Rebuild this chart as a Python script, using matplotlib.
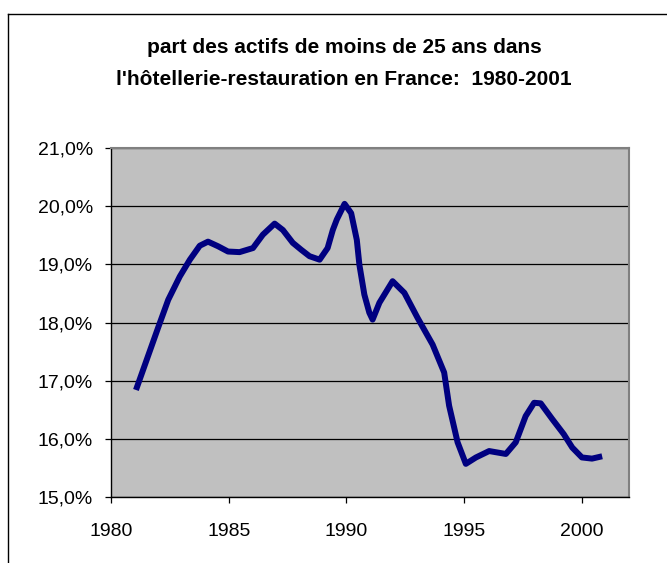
import matplotlib
matplotlib.use("Agg")
import matplotlib.pyplot as plt
from matplotlib.lines import Line2D
from matplotlib.ticker import FuncFormatter

plt.rcParams['font.family'] = ['Liberation Sans', 'DejaVu Sans']

years = [1981.06, 1982.0, 1982.43, 1982.92, 1983.35, 1983.77, 1984.12, 1984.55,
         1984.97, 1985.46, 1986.03, 1986.45, 1986.95, 1987.3, 1987.72, 1988.08,
         1988.43, 1988.86, 1989.2, 1989.42, 1989.59, 1989.92, 1990.2, 1990.44,
         1990.55, 1990.76, 1990.97, 1991.11, 1991.4, 1991.96, 1992.46, 1993.02,
         1993.66, 1994.15, 1994.36, 1994.72, 1995.07, 1995.5, 1996.06, 1996.77,
         1997.19, 1997.61, 1997.97, 1998.25, 1998.74, 1999.23, 1999.59, 2000.0,
         2000.43, 2000.86]
share = [16.84, 17.91, 18.39, 18.79, 19.08, 19.32, 19.39, 19.31,
         19.22, 19.21, 19.28, 19.51, 19.70, 19.59, 19.37, 19.25,
         19.14, 19.08, 19.28, 19.59, 19.77, 20.04, 19.88, 19.42,
         18.99, 18.48, 18.17, 18.05, 18.34, 18.71, 18.51, 18.08,
         17.62, 17.14, 16.57, 15.94, 15.57, 15.68, 15.79, 15.74,
         15.94, 16.39, 16.62, 16.61, 16.34, 16.08, 15.85, 15.68,
         15.66, 15.70]
xticks = [1980, 1985, 1990, 1995, 2000]
yticks = [15, 16, 17, 18, 19, 20, 21]
title_lines = ["part des actifs de moins de 25 ans dans",
               "l'hôtellerie-restauration en France:  1980-2001"]

W, H = 667, 563
fig = plt.figure(figsize=(W / 100, H / 100), dpi=100)
fig.patch.set_facecolor('white')

# outer chart border
fig.add_artist(Line2D([8 / W, 8 / W], [0, 1 - 14 / H], transform=fig.transFigure,
                      color='black', lw=1))
fig.add_artist(Line2D([8 / W, 1], [1 - 14 / H, 1 - 14 / H], transform=fig.transFigure,
                      color='black', lw=1))

left, right, top, bottom = 111, 629, 148, 497
ax = fig.add_axes([left / W, 1 - bottom / H, (right - left) / W, (bottom - top) / H])
ax.set_facecolor('#C0C0C0')
ax.plot(years, share, color='#000080', lw=4.3, solid_joinstyle='round',
        solid_capstyle='butt', zorder=3)

ax.set_xlim(1980, 2002)
ax.set_ylim(15, 21)
ax.set_xticks(xticks)
ax.set_yticks(yticks)
ax.yaxis.set_major_formatter(FuncFormatter(lambda v, p: f"{v:.1f}%".replace('.', ',')))
ax.grid(axis='y', color='black', lw=0.9)
ax.set_axisbelow(True)
ax.tick_params(axis='both', labelsize=14, length=4.3, width=0.9, color='black',
               direction='out')
ax.tick_params(axis='y', pad=8.6)
ax.tick_params(axis='x', pad=14.5)
for s in ['left', 'bottom']:
    ax.spines[s].set_color('black')
    ax.spines[s].set_linewidth(1)
for s in ['top', 'right']:
    ax.spines[s].set_color('#808080')
    ax.spines[s].set_linewidth(1.5)

fig.text(344 / W, 1 - 53 / H, title_lines[0], ha='center', va='baseline',
         fontsize=15, fontweight='bold')
fig.text(344 / W, 1 - 85 / H, title_lines[1], ha='center', va='baseline',
         fontsize=15, fontweight='bold')

fig.savefig('out.png', dpi=100)
